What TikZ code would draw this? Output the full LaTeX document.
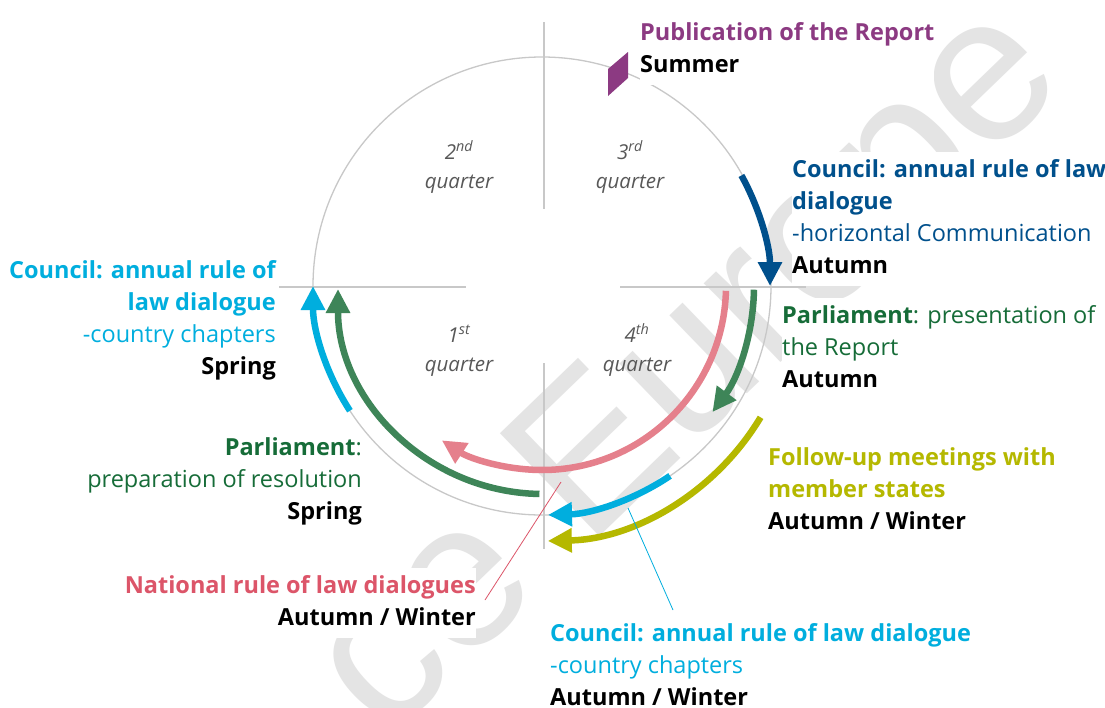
\documentclass[tikz,border=0pt]{standalone}
\usepackage{fontspec}
\setmainfont{Open Sans}
\newfontfamily\wmfont{Liberation Sans}
\usetikzlibrary{arrows.meta,calc}
\definecolor{cpurple}{RGB}{140,58,130}
\definecolor{cdblue}{RGB}{0,80,140}
\definecolor{cgreentxt}{RGB}{22,108,56}
\definecolor{cgreen}{RGB}{62,133,88}
\definecolor{ccyan}{RGB}{0,174,222}
\definecolor{colive}{RGB}{181,184,0}
\definecolor{cpink}{RGB}{229,128,140}
\definecolor{cpinktxt}{RGB}{220,85,105}
\definecolor{cgray}{RGB}{200,200,200}
\definecolor{qgray}{RGB}{88,88,88}
\definecolor{wmgray}{RGB}{228,228,228}
\newcommand\blk[2]{\begin{tabular}[t]{@{}#1@{}}#2\end{tabular}}
\begin{document}
\begin{tikzpicture}[x=1pt,y=-1pt,
  ring/.style={draw=cgray,line width=1.3pt},
  axisline/.style={draw=cgray,line width=1.3pt},
  arr/.style={line width=6.5pt,-{Triangle[width=23pt,length=24pt]}},
  lbl/.style={inner xsep=0pt,inner ysep=3pt,fill=white,font=\fontsize{23.5}{32}\selectfont},
  qtr/.style={inner sep=0pt,text=qgray,font=\fontsize{20.5}{29}\selectfont\itshape},
  wm/.style={text=wmgray,font=\wmfont\fontsize{208}{208}\selectfont,rotate=44,inner sep=0pt},
  leader/.style={line width=0.8pt}]
\useasboundingbox (0,0) rectangle (1105,707);
\fill[white] (0,0) rectangle (1105,707);
% watermark
\begin{scope}
\clip (0,0) rectangle (1105,707);
\node[wm,anchor=base west] (wm1) at (587,549) {Europe};
\node[wm,anchor=base east] (wm2) at (545,589) {ce};
\end{scope}
% circle and axes
\coordinate (C) at (542,286);
\draw[ring] (C) circle[radius=229];
\coordinate (hl1) at (279,287); \coordinate (hl2) at (466,287);
\coordinate (hr1) at (620,287); \coordinate (hr2) at (806,287);
\coordinate (vt1) at (544,22);  \coordinate (vt2) at (544,209);
\coordinate (vb1) at (544,363); \coordinate (vb2) at (544,549);
\draw[axisline] (hl1) -- (hl2);
\draw[axisline] (hr1) -- (hr2);
\draw[axisline] (vt1) -- (vt2);
\draw[axisline] (vb1) -- (vb2);
% quarter labels
\node[qtr,anchor=base] (q2) at (459,159) {\blk{c}{2\textsuperscript{nd}\\quarter}};
\node[qtr,anchor=base] (q3) at (630,159) {\blk{c}{3\textsuperscript{rd}\\quarter}};
\node[qtr,anchor=base] (q1) at (459,342) {\blk{c}{1\textsuperscript{st}\\quarter}};
\node[qtr,anchor=base] (q4) at (637,342) {\blk{c}{4\textsuperscript{th}\\quarter}};
% publication marker
\fill[cpurple] (608,69) -- (628,52) -- (628,78) -- (608,96) -- cycle;
% arrows
\coordinate (a1) at ($(C)+(-29:228)$);
\draw[arr,cdblue] (a1) arc[start angle=-29,end angle=0,radius=228];
\coordinate (a2) at ($(C)+(1:212)$);
\draw[arr,cgreen] (a2) arc[start angle=1,end angle=36.5,radius=212];
\coordinate (a3) at ($(C)+(1.5:184)$);
\draw[arr,cpink] (a3) arc[start angle=1.5,end angle=123,radius=184];
\coordinate (C2) at (543,289);
\coordinate (a4) at ($(C2)+(91:205)$);
\draw[arr,cgreen] (a4) arc[start angle=91,end angle=180,radius=205];
\coordinate (a5) at ($(C)+(147:229)$);
\draw[arr,ccyan] (a5) arc[start angle=147,end angle=180,radius=229];
\coordinate (a6) at ($(C)+(56:229)$);
\draw[arr,ccyan] (a6) arc[start angle=56,end angle=88.5,radius=229];
\coordinate (a7) at ($(C)+(31:255)$);
\draw[arr,colive] (a7) arc[start angle=31,end angle=88.7,radius=255];
% leader lines
\coordinate (pk1) at (561,482); \coordinate (pk2) at (485,600);
\draw[leader,cpinktxt] (pk1) -- (pk2);
\coordinate (cy1) at (628,508); \coordinate (cy2) at (673,610);
\draw[leader,ccyan] (cy1) -- (cy2);
% labels
\node[lbl,anchor=base west] (pub) at (640,40) {\blk{l}{\color{cpurple}\bfseries Publication of the Report\\ \bfseries Summer}};
\node[lbl,anchor=base west] (cright) at (792,177) {\blk{l}{\color{cdblue}\bfseries Council: annual rule of law\\ \color{cdblue}\bfseries dialogue\\ \color{cdblue}-horizontal Communication\\ \bfseries Autumn}};
\node[lbl,anchor=base west] (parl1) at (782,323) {\blk{l}{\color{cgreentxt}\textbf{Parliament}: presentation of\\ \color{cgreentxt}the Report\\ \bfseries Autumn}};
\node[lbl,anchor=base west] (follow) at (768,465) {\blk{l}{\color{colive}\bfseries Follow-up meetings with\\ \color{colive}\bfseries member states\\ \bfseries Autumn / Winter}};
\node[lbl,anchor=base east] (cleft) at (276,278) {\blk{r}{\color{ccyan}\bfseries Council: annual rule of\\ \color{ccyan}\bfseries law dialogue\\ \color{ccyan}-country chapters\\ \bfseries Spring}};
\node[lbl,anchor=base east] (parl2) at (362,455) {\blk{r}{\color{cgreentxt}\textbf{Parliament}:\\ \color{cgreentxt}preparation of resolution\\ \bfseries Spring}};
\node[lbl,anchor=base east] (natl) at (476,593) {\blk{r}{\color{cpinktxt}\bfseries National rule of law dialogues\\ \bfseries Autumn / Winter}};
\node[lbl,anchor=base west] (cbot) at (550,641) {\blk{l}{\color{ccyan}\bfseries Council: annual rule of law dialogue\\ \color{ccyan}-country chapters\\ \bfseries Autumn / Winter}};
\end{tikzpicture}
\end{document}
